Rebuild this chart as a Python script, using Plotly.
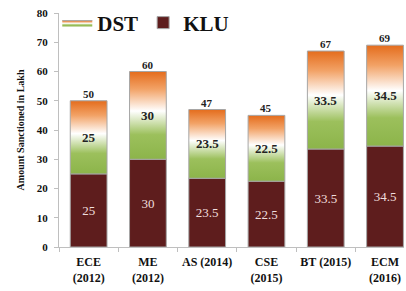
import plotly.graph_objects as go

categories = ["ECE<br>(2012)", "ME<br>(2012)", "AS (2014)", "CSE<br>(2015)", "BT (2015)", "ECM<br>(2016)"]
klu = [25, 30, 23.5, 22.5, 33.5, 34.5]
dst = [25, 30, 23.5, 22.5, 33.5, 34.5]
totals = [50, 60, 47, 45, 67, 69]
y_ticks = [0, 10, 20, 30, 40, 50, 60, 70, 80]

SERIF = "Liberation Serif, Times New Roman, DejaVu Serif, serif"
BW = 0.62
xs = list(range(len(categories)))

grad = [[0, "#8cb44a"], [0.28, "#9cc05c"], [0.55, "#ffffff"], [0.8, "#f2a266"], [1, "#e46c1c"]]

fig = go.Figure()

# DST segments with vertical gradient, built from data
for i, (k, d) in enumerate(zip(klu, dst)):
    x0, x1 = i - BW / 2, i + BW / 2
    fig.add_trace(go.Scatter(
        x=[x0, x1, x1, x0, x0], y=[k, k, k + d, k + d, k],
        mode="lines", fill="toself",
        fillgradient=dict(type="vertical", colorscale=grad),
        line=dict(color="#a6a6a6", width=1),
        name="DST", legendgroup="DST", showlegend=(i == 0),
        hoverinfo="skip",
    ))

fig.add_trace(go.Bar(
    x=xs, y=klu, width=BW, name="KLU",
    marker=dict(color="#5e1d1d", line=dict(color="#a6a6a6", width=1)),
    text=[str(v) for v in klu], textposition="inside", insidetextanchor="middle",
    textfont=dict(family=SERIF, size=13, color="#f0dede"),
))

for i, (k, d, t) in enumerate(zip(klu, dst, totals)):
    fig.add_annotation(x=i, y=k + d / 2, text=f"<b>{d:g}</b>", showarrow=False,
                       font=dict(family=SERIF, size=13, color="#222222"))
    fig.add_annotation(x=i, y=t, text=f"<b>{t}</b>", showarrow=False, yshift=7,
                       font=dict(family=SERIF, size=11, color="#222222"))

fig.update_layout(
    width=406, height=291,
    margin=dict(l=59, r=2, t=13, b=44, autoexpand=False),
    paper_bgcolor="white", plot_bgcolor="white",
    font=dict(family=SERIF),
    barmode="overlay",
    showlegend=True,
    legend=dict(orientation="h", x=-0.005, y=1.045, xanchor="left", yanchor="top",
                font=dict(family=SERIF, size=21, color="#111111", weight="bold"),
                bgcolor="rgba(0,0,0,0)", itemwidth=30, traceorder="normal"),
    xaxis=dict(range=[-0.5, 5.32], tickmode="array", tickvals=xs,
               ticktext=[f"<b>{c}</b>".replace("<br>", "</b><br><b>") for c in categories],
               ticks="", showline=True, linecolor="#bfbfbf", showgrid=False, zeroline=False, automargin=False,
               tickfont=dict(family=SERIF, size=12, color="#111111"), ticklabelstandoff=4,
               minor=dict(tickmode="array", tickvals=[-0.5, 0.5, 1.5, 2.5, 3.5, 4.5], ticks="outside",
                          ticklen=4, tickcolor="#bfbfbf")),
    yaxis=dict(range=[0, 80], tickmode="array", tickvals=y_ticks, showline=True, linecolor="#bfbfbf",
               ticks="outside", ticklen=4, tickcolor="#bfbfbf", showgrid=False, zeroline=False, automargin=False,
               tickfont=dict(family=SERIF, size=11, color="#111111", weight="bold"), ticklabelstandoff=4,
               title=dict(text="<b>Amount Sanctioned in Lakh</b>", font=dict(family=SERIF, size=10, color="#111111"),
                          standoff=10)),
)

fig.write_html("out.html", config={"displayModeBar": False},
               post_script="document.body.style.margin='0';document.body.style.overflow='hidden';")
